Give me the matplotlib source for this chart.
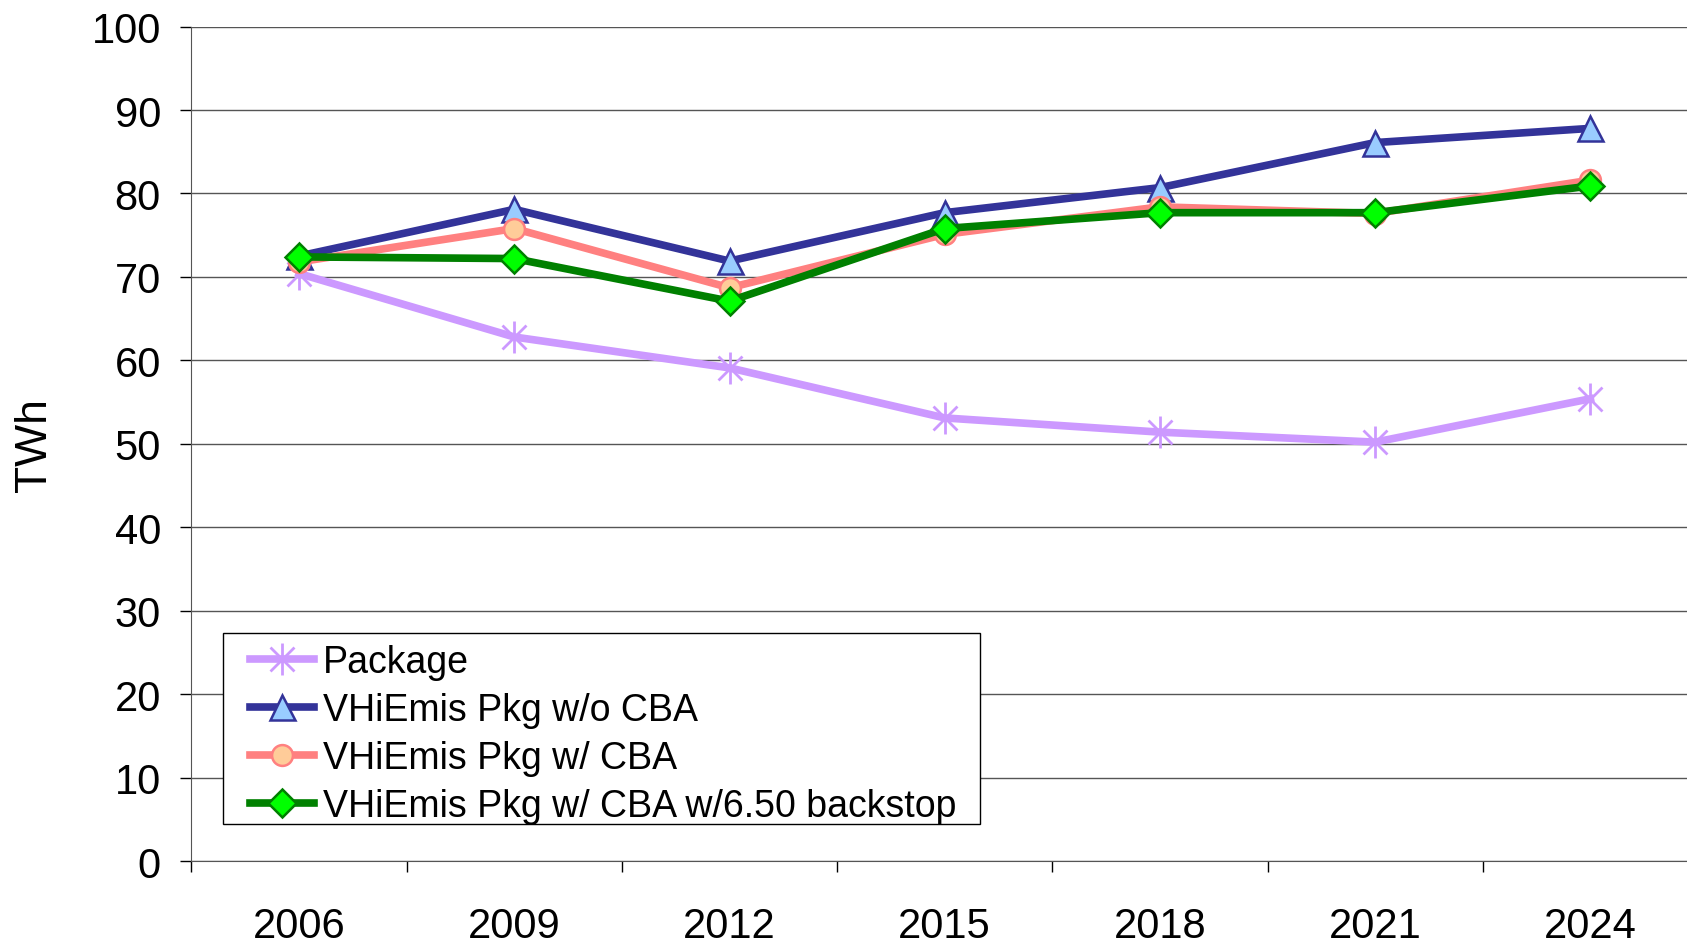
import numpy as np
import matplotlib.pyplot as plt
from matplotlib.path import Path
from matplotlib.patches import Rectangle

plt.rcParams['font.family'] = ['Liberation Sans', 'DejaVu Sans']

years = ['2006', '2009', '2012', '2015', '2018', '2021', '2024']
package = [70.4, 62.8, 59.1, 53.1, 51.4, 50.2, 55.4]
no_cba = [72.5, 78.1, 71.9, 77.7, 80.7, 86.1, 87.8]
with_cba = [71.8, 75.8, 68.7, 75.1, 78.4, 77.6, 81.6]
backstop = [72.4, 72.2, 67.1, 75.8, 77.7, 77.7, 80.9]

# Excel style asterisk: vertical bar plus an X
star = Path([(0, -1), (0, 1), (-0.75, -0.75), (0.75, 0.75), (-0.75, 0.75), (0.75, -0.75)],
            [Path.MOVETO, Path.LINETO, Path.MOVETO, Path.LINETO, Path.MOVETO, Path.LINETO])

fig = plt.figure(figsize=(16.87, 9.45), dpi=100)
ax = fig.add_axes([0.1135, 0.0878, 0.893, 0.883])
x = np.arange(len(years))

lw = 5.5
ax.plot(x, package, color='#CC99FF', lw=lw, marker=star, ms=23, mew=2,
        mec='#CC99FF', label='Package', zorder=3)
ax.plot(x, no_cba, color='#333399', lw=lw, marker='^', ms=18, mfc='#99CCFF',
        mec='#333399', mew=1.8, label='VHiEmis Pkg w/o CBA', zorder=4)
ax.plot(x, with_cba, color='#FF8080', lw=lw, marker='o', ms=15, mfc='#FFCC99',
        mec='#FF8080', mew=1.8, label='VHiEmis Pkg w/ CBA', zorder=5)
ax.plot(x, backstop, color='#008000', lw=lw, marker='D', ms=14, mfc='#00FF00',
        mec='#008000', mew=1.8, label='VHiEmis Pkg w/ CBA w/6.50 backstop', zorder=6)

ax.set_xlim(-0.5, len(years) - 0.5)
ax.set_ylim(0, 100)
ax.set_yticks(np.arange(0, 101, 10))
ax.yaxis.grid(True, color='#555555', lw=1)
ax.set_axisbelow(True)

ax.set_xticks(x)
ax.set_xticklabels(years)
ax.set_xticks(np.arange(-0.5, len(years)), minor=True)
ax.tick_params(axis='x', which='major', length=0, pad=32.5, labelsize=30)
ax.tick_params(axis='x', which='minor', length=8, width=1, direction='out')
ax.tick_params(axis='y', length=8, width=1, pad=14, labelsize=30)

for s in ['top', 'right']:
    ax.spines[s].set_visible(False)
ax.spines['left'].set_color('#555555')
ax.spines['bottom'].set_color('#555555')

ax.set_ylabel('TWh', fontsize=32)
ax.yaxis.set_label_coords(-0.0905, 0.5)

# legend frame drawn separately so the padding can differ per side
ax.add_patch(Rectangle((0.0207, 0.044), 0.5029, 0.2293, transform=ax.transAxes,
                       facecolor='white', edgecolor='black', lw=1, zorder=7))
leg = ax.legend(loc='lower left', bbox_to_anchor=(0.0386, 0.0448), borderaxespad=0,
                fontsize=27, frameon=False, handlelength=1.72, handletextpad=0.23,
                labelspacing=0.32, borderpad=0)
leg.set_zorder(8)

plt.savefig('out.png', dpi=100)
